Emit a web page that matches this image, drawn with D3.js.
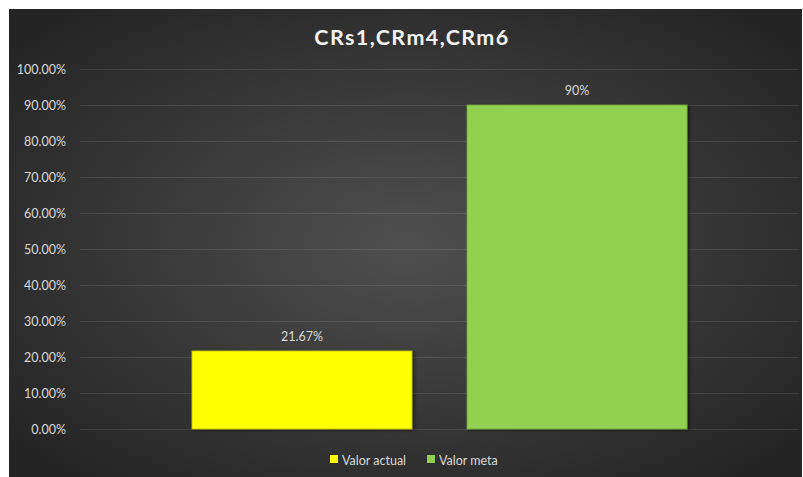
<!DOCTYPE html>
<html><head><meta charset="utf-8">
<script src="https://cdn.jsdelivr.net/npm/d3@7"></script>
<style>html,body{margin:0;padding:0;background:#fff;}svg{display:block;}</style>
</head><body>
<script>
const title = "CRs1,CRm4,CRm6";
const seriesNames = ["Valor actual", "Valor meta"];
const seriesValues = [0.2167, 0.90];
const seriesLabels = ["21.67%", "90%"];
const seriesColors = ["#ffff00", "#92d050"];
const seriesStroke = ["#bfbf00", "#6fa838"];
const yTicks = [0, 0.1, 0.2, 0.3, 0.4, 0.5, 0.6, 0.7, 0.8, 0.9, 1.0];

const W = 803, H = 477;
const svg = d3.select("body").append("svg").attr("width", W).attr("height", H);
const defs = svg.append("defs");
const rg = defs.append("radialGradient").attr("id","bg").attr("cx","50%").attr("cy","50%").attr("r","65%");
rg.append("stop").attr("offset","0%").attr("stop-color","#4f4f4f");
rg.append("stop").attr("offset","100%").attr("stop-color","#242424");
const sh = defs.append("filter").attr("id","sh").attr("x","-10%").attr("y","-10%").attr("width","130%").attr("height","130%");
sh.append("feDropShadow").attr("dx",2).attr("dy",1).attr("stdDeviation",1.5).attr("flood-color","#000").attr("flood-opacity",0.5);

svg.append("rect").attr("x",9).attr("y",9).attr("width",793).attr("height",470).attr("fill","url(#bg)");

const font = "Lato, 'Open Sans', 'DejaVu Sans', sans-serif";
svg.append("text").attr("x",412).attr("y",45).attr("text-anchor","middle")
  .attr("font-family",font).attr("font-weight","bold").attr("font-size",21.5)
  .attr("fill","#f2f2f2").attr("letter-spacing",1.4).text(title);

const x0 = 80, x1 = 799;
const y = d3.scaleLinear().domain([0,1]).range([429,69]);
const x = d3.scaleBand().domain(seriesNames).range([x0,x1]).paddingInner(0.2).paddingOuter(0.407);

const yAxis = d3.axisLeft(y).tickValues(yTicks).tickSize(-(x1-x0)).tickFormat(d3.format(".2%"));
const ga = svg.append("g").attr("transform",`translate(${x0},0)`).call(yAxis);
ga.select(".domain").remove();
ga.selectAll(".tick line").attr("stroke","#ffffff").attr("stroke-opacity",0.1).attr("stroke-width",1);
ga.selectAll(".tick text").attr("x",-14).attr("font-family",font).attr("font-size",12.5).attr("fill","#d9d9d9");

svg.append("g").selectAll("rect").data(seriesNames).join("rect")
  .attr("x",d=>x(d)).attr("width",x.bandwidth())
  .attr("y",(d,i)=>y(seriesValues[i])).attr("height",(d,i)=>y(0)-y(seriesValues[i]))
  .attr("fill",(d,i)=>seriesColors[i]).attr("stroke",(d,i)=>seriesStroke[i]).attr("stroke-width",0.8)
  .attr("filter","url(#sh)");

svg.append("g").selectAll("text").data(seriesNames).join("text")
  .attr("x",d=>x(d)+x.bandwidth()/2).attr("y",(d,i)=>y(seriesValues[i])-10)
  .attr("text-anchor","middle").attr("font-family",font).attr("font-size",12.5).attr("fill","#d9d9d9")
  .text((d,i)=>seriesLabels[i]);

const legX = [330, 427];
const lg = svg.append("g");
seriesNames.forEach((n,i)=>{
  lg.append("rect").attr("x",legX[i]).attr("y",455).attr("width",8).attr("height",8).attr("fill",seriesColors[i]);
  lg.append("text").attr("x",legX[i]+12).attr("y",464.5).attr("font-family",font).attr("font-size",12.5).attr("fill","#d9d9d9").text(n);
});
</script>
</body></html>
